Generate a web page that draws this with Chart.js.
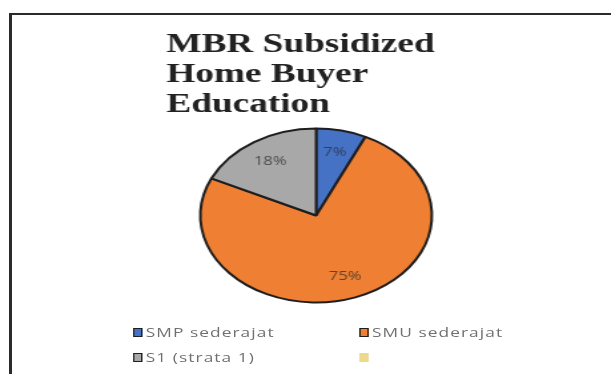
<!DOCTYPE html>
<html lang="en">

<head>
    <meta charset="UTF-8">
    <title>MBR Subsidized Home Buyer Education</title>
    <style>
        body { margin: 0; background: #fff; width: 611px; height: 374px; overflow: hidden; position: relative; }
        #frame { position: absolute; left: 9px; top: 13px; width: 700px; height: 500px;
                 border-left: 3px solid #2b2b2b; border-top: 2px solid #2b2b2b; }
        /* the source picture is stretched sideways, so the whole stage is too */
        #stage { position: absolute; left: 0; top: 0; width: 459px; height: 374px;
                 transform: scaleX(1.331); transform-origin: 0 0; }
        #pie { position: absolute; left: 0; top: 0; }
        #legend { position: absolute; left: 100px; top: 325px; display: grid;
                  grid-template-columns: 170px 110px; row-gap: 11px;
                  font-family: 'Open Sans', sans-serif; font-size: 13px; color: #707070; }
        .item { display: flex; align-items: center; height: 14px; white-space: nowrap; letter-spacing: 0.8px; }
        .box { box-sizing: border-box; width: 6.5px; height: 9px; margin-right: 3px; }
    </style>
</head>

<body>
    <div id="frame"></div>
    <div id="stage">
        <canvas id="pie" width="459" height="374"></canvas>
        <div id="legend"></div>
    </div>
    <script src="https://cdn.jsdelivr.net/npm/chart.js@4.4.1/dist/chart.umd.min.js"></script>
    <script>
        const titleLines = ['MBR Subsidized', 'Home Buyer', 'Education']
        const categories = ['SMP sederajat', 'SMU sederajat', 'S1 (strata 1)', '']
        const percentages = [7, 75, 18, 0]
        const sliceColors = ['#4672c6', '#ef7f32', '#a8a8a8', '#ecd98c']
        const sliceBorders = [2, 2, 2, 0]

        // percent text inside each slice
        const sliceLabels = {
            id: 'sliceLabels',
            afterDatasetsDraw(chart) {
                const ctx = chart.ctx
                const meta = chart.getDatasetMeta(0)
                ctx.save()
                ctx.font = '12.5px "Open Sans"'
                ctx.fillStyle = 'rgba(45,45,45,0.75)'
                ctx.textAlign = 'center'
                ctx.textBaseline = 'middle'
                meta.data.forEach((arc, i) => {
                    const v = percentages[i]
                    if (!v) return
                    const p = arc.getProps(['x', 'y', 'startAngle', 'endAngle', 'outerRadius'], true)
                    const mid = (p.startAngle + p.endAngle) / 2
                    const r = p.outerRadius * 0.74
                    ctx.fillText(v + '%', p.x + Math.cos(mid) * r, p.y + Math.sin(mid) * r)
                })
                ctx.restore()
            }
        }

        // legend as html, from the library's own legend items
        const htmlLegend = {
            id: 'htmlLegend',
            afterUpdate(chart) {
                const box = document.getElementById('legend')
                box.innerHTML = ''
                const items = chart.options.plugins.legend.labels.generateLabels(chart)
                items.forEach(item => {
                    const row = document.createElement('div')
                    row.className = 'item'
                    const sw = document.createElement('span')
                    sw.className = 'box'
                    sw.style.background = item.fillStyle
                    sw.style.border = item.lineWidth ? '1.5px solid ' + item.strokeStyle : 'none'
                    const txt = document.createElement('span')
                    txt.textContent = item.text
                    row.appendChild(sw)
                    row.appendChild(txt)
                    box.appendChild(row)
                })
            }
        }

        const pieCtx = document.getElementById('pie')
        const pieChart = new Chart(pieCtx, {
            type: 'pie',
            data: {
                labels: categories,
                datasets: [
                    {
                        data: percentages,
                        backgroundColor: sliceColors,
                        borderColor: '#1e1e1e',
                        borderWidth: sliceBorders,
                        radius: 87
                    }
                ]
            },
            options: {
                responsive: false,
                animation: false,
                layout: {
                    padding: { left: 125, right: 109, top: 30, bottom: 63 }
                },
                plugins: {
                    legend: { display: false },
                    tooltip: { enabled: false },
                    title: {
                        display: true,
                        text: titleLines,
                        align: 'start',
                        color: '#222',
                        padding: 0,
                        font: { family: 'Liberation Serif', weight: 'bold', size: 28, lineHeight: '30px' }
                    }
                }
            },
            plugins: [sliceLabels, htmlLegend]
        })
    </script>
</body>

</html>
